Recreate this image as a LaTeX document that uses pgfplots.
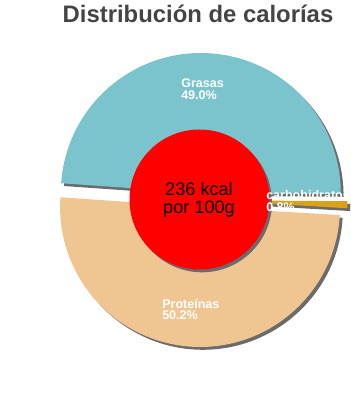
\documentclass[border=0pt]{standalone}
\usepackage{pgfplots}
\pgfplotsset{compat=1.18}
\usepackage{pgfplotstable}
\usepackage{fontspec}
\setmainfont{Liberation Sans}

\definecolor{cGrasas}{HTML}{7CC4CD}
\definecolor{cCarb}{HTML}{D9A21B}
\definecolor{cProt}{HTML}{EFC592}
\definecolor{shadowc}{HTML}{6B6B6B}
\definecolor{titlec}{HTML}{444444}

% calorie shares (percent), clockwise from the left
\pgfplotstableread[col sep=comma]{
label,value
Grasas,49.0
carbohidratos,0.8
Proteinas,50.2
}\calories

\begin{document}
\begin{tikzpicture}
\begin{axis}[scale only axis, width=300pt, height=300pt,
  xmin=0, xmax=400, ymin=0, ymax=400, hide axis]
% 1 axis unit = 0.75pt
\def\R{105pt}
\def\explode{7}
% shadows first, then the slices
\foreach \pass in {0,1}{
  \xdef\angA{176}
  \pgfplotsforeachungrouped \i/\col in {0/cGrasas,1/cCarb,2/cProt}{
    \pgfplotstablegetelem{\i}{value}\of\calories
    \pgfmathsetmacro{\angB}{\angA-3.6*\pgfplotsretval}
    \pgfmathsetmacro{\mid}{(\angA+\angB)/2}
    \pgfmathsetmacro{\cx}{200.5+\explode*cos(\mid)+2.8*(1-\pass)}
    \pgfmathsetmacro{\cy}{200+\explode*sin(\mid)-2.8*(1-\pass)}
    \ifnum\pass=0 \def\fc{shadowc}\else\def\fc{\col}\fi
    \edef\temp{\noexpand\fill[\fc] (axis cs:\cx,\cy) -- ++(\angA:\R)
      arc[start angle=\angA, end angle=\angB, radius=\R] -- cycle;}
    \temp
    \xdef\angA{\angB}
  }
}
% centre disc
\fill[shadowc] (axis cs:202,197.7) circle[radius=52.5pt];
\fill[red] (axis cs:199.5,200.5) circle[radius=52.5pt];
\node[anchor=base, font=\fontsize{13.6}{16}\selectfont] at (axis cs:199,204.3) {236 kcal};
\node[anchor=base, font=\fontsize{13.6}{16}\selectfont] at (axis cs:199,186.7) {por 100g};
% labels
\tikzset{lab/.style={anchor=base west, inner sep=0pt, text=white,
  font=\fontsize{9.4}{11}\selectfont\bfseries}}
\node[lab] at (axis cs:181,312) {Grasas};
\node[lab] at (axis cs:181,300) {49.0\%};
\node[lab] at (axis cs:162,91.7) {Proteínas};
\node[lab] at (axis cs:162,80.7) {50.2\%};
\begin{scope}
\clip (axis cs:0,0) rectangle (axis cs:345,400);
\node[lab] at (axis cs:266,200) {carbohidratos};
\node[lab] at (axis cs:266,188) {0.8\%};
\end{scope}
% title
\node[anchor=base, text=titlec, font=\fontsize{17.9}{20}\selectfont\bfseries]
  at (axis cs:198,377) {Distribución de calorías};
\end{axis}
\end{tikzpicture}
\end{document}
